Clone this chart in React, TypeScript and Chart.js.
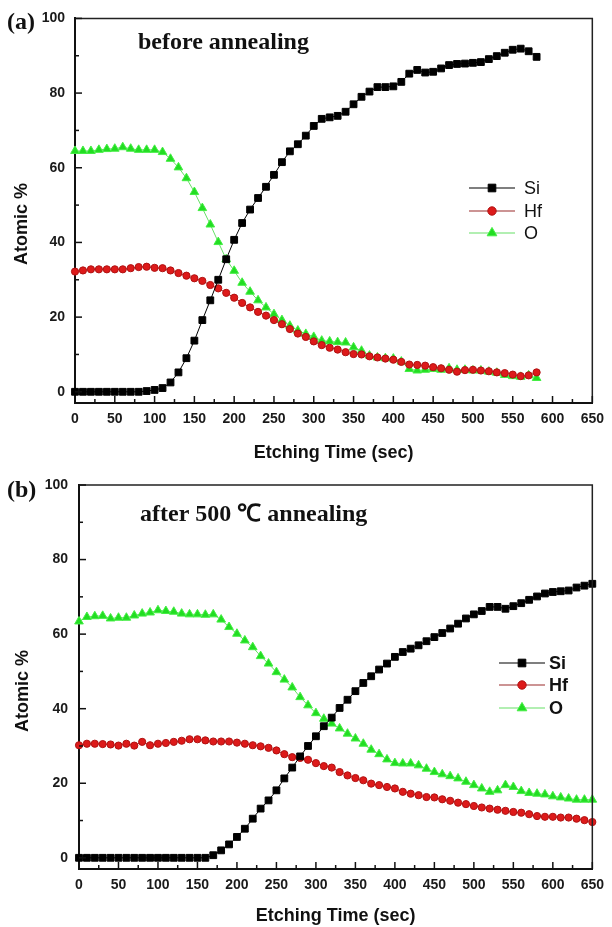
import React, { useEffect, useRef } from "react";
import { Chart, registerables } from "chart.js";

Chart.register(...registerables);

// ---------- data ----------
const timesA = [0, 10, 20, 30, 40, 50, 60, 70, 80, 90, 100, 110, 120, 130, 140, 150, 160, 170, 180, 190, 200, 210, 220, 230, 240, 250, 260, 270, 280, 290, 300, 310, 320, 330, 340, 350, 360, 370, 380, 390, 400, 410, 420, 430, 440, 450, 460, 470, 480, 490, 500, 510, 520, 530, 540, 550, 560, 570, 580];
const siA = [0, 0, 0, 0, 0, 0, 0, 0, 0, 0.2, 0.5, 1.0, 2.5, 5.2, 9.0, 13.7, 19.2, 24.5, 30.0, 35.5, 40.7, 45.2, 48.8, 51.9, 54.9, 58.1, 61.5, 64.4, 66.3, 68.6, 71.2, 73.1, 73.5, 73.9, 75.0, 77.0, 79.0, 80.4, 81.6, 81.6, 81.8, 83.0, 85.2, 86.2, 85.5, 85.7, 86.6, 87.5, 87.8, 87.9, 88.1, 88.3, 89.1, 89.9, 90.8, 91.6, 91.9, 91.2, 89.7];
const hfA = [32.2, 32.5, 32.8, 32.8, 32.8, 32.8, 32.8, 33.1, 33.4, 33.5, 33.2, 33.1, 32.5, 31.8, 31.1, 30.4, 29.7, 28.6, 27.7, 26.5, 25.2, 23.8, 22.6, 21.4, 20.4, 19.2, 18.1, 16.8, 15.6, 14.7, 13.5, 12.5, 11.8, 11.3, 10.6, 10.1, 10.0, 9.5, 9.2, 8.9, 8.6, 8.0, 7.3, 7.2, 7.0, 6.6, 6.3, 5.9, 5.4, 5.8, 5.9, 5.7, 5.5, 5.2, 5.0, 4.6, 4.2, 4.4, 5.2];
const oA = [64.5, 64.5, 64.5, 64.8, 65.0, 65.1, 65.5, 65.1, 64.8, 64.8, 64.8, 64.2, 62.4, 60.1, 57.2, 53.5, 49.2, 44.8, 40.1, 35.5, 32.4, 29.2, 26.8, 24.5, 22.6, 20.8, 19.2, 17.7, 16.4, 15.5, 14.7, 13.7, 13.5, 13.3, 13.2, 11.9, 11.0, 9.7, 9.2, 9.0, 8.9, 8.1, 6.1, 5.7, 5.9, 6.1, 5.9, 6.3, 5.9, 5.9, 5.7, 5.7, 5.4, 5.1, 4.5, 4.2, 4.0, 4.4, 3.7];

const timesB = [0, 10, 20, 30, 40, 50, 60, 70, 80, 90, 100, 110, 120, 130, 140, 150, 160, 170, 180, 190, 200, 210, 220, 230, 240, 250, 260, 270, 280, 290, 300, 310, 320, 330, 340, 350, 360, 370, 380, 390, 400, 410, 420, 430, 440, 450, 460, 470, 480, 490, 500, 510, 520, 530, 540, 550, 560, 570, 580, 590, 600, 610, 620, 630, 640, 650];
const siB = [0, 0, 0, 0, 0, 0, 0, 0, 0, 0, 0, 0, 0, 0, 0, 0, 0, 0.7, 2.0, 3.6, 5.6, 7.8, 10.5, 13.2, 15.4, 18.1, 21.3, 24.2, 27.2, 30.0, 32.6, 35.3, 37.6, 40.2, 42.4, 44.7, 46.9, 48.7, 50.5, 52.1, 53.9, 55.2, 56.1, 57.0, 58.1, 59.2, 60.3, 61.5, 62.8, 64.2, 65.3, 66.2, 67.3, 67.3, 66.8, 67.5, 68.3, 69.2, 70.1, 70.9, 71.3, 71.5, 71.7, 72.5, 73.0, 73.5];
const hfB = [30.2, 30.6, 30.6, 30.5, 30.4, 30.1, 30.6, 30.1, 31.1, 30.2, 30.6, 30.8, 31.1, 31.4, 31.8, 31.8, 31.5, 31.2, 31.2, 31.2, 30.9, 30.6, 30.2, 29.9, 29.5, 28.8, 27.8, 27.0, 26.8, 26.3, 25.4, 24.6, 24.2, 23.0, 22.1, 21.4, 20.8, 19.9, 19.5, 19.0, 18.6, 17.7, 17.2, 16.8, 16.3, 16.2, 15.7, 15.3, 14.8, 14.4, 13.9, 13.5, 13.2, 12.9, 12.6, 12.3, 12.1, 11.7, 11.2, 11.0, 11.0, 10.8, 10.8, 10.5, 10.1, 9.6];
const oB = [63.4, 64.6, 64.8, 64.9, 64.2, 64.4, 64.4, 65.0, 65.5, 65.8, 66.4, 66.2, 66.0, 65.5, 65.3, 65.3, 65.2, 65.3, 63.9, 61.9, 60.1, 58.3, 56.5, 54.1, 52.1, 49.8, 47.8, 45.7, 43.1, 40.9, 38.8, 37.3, 36.0, 34.7, 33.3, 32.0, 30.6, 29.0, 27.8, 26.4, 25.4, 25.3, 25.3, 24.8, 23.9, 23.0, 22.4, 21.9, 21.3, 20.4, 19.5, 18.6, 17.7, 18.1, 19.5, 19.0, 17.9, 17.4, 17.2, 17.0, 16.5, 16.2, 15.9, 15.6, 15.6, 15.6];

const seriesLabels = ["Si", "Hf", "O"];
const xMajorTicks = [0, 50, 100, 150, 200, 250, 300, 350, 400, 450, 500, 550, 600, 650];
const xMinorTicks = [25, 75, 125, 175, 225, 275, 325, 375, 425, 475, 525, 575, 625];
const yMajorTicks = [0, 20, 40, 60, 80, 100];
const yMinorTicks = [10, 30, 50, 70, 90];
const xTitle = "Etching Time (sec)";
const yTitle = "Atomic %";

// ---------- styles ----------
const SERIES_STYLE = [
  { line: "#000000", bg: "#000000", border: "#000000", style: "rect", r: 4.8 },
  { line: "#9a2a2a", bg: "#dd1a1a", border: "#b01212", style: "circle", r: 3.6 },
  { line: "#66e066", bg: "#22dd22", border: "#44ee44", style: "triangle", r: 5 },
];

const SANS = '"Liberation Sans", Arial, sans-serif';
const SERIF = '"Liberation Serif", "Times New Roman", serif';

function drawMarker(ctx: CanvasRenderingContext2D, style: string, x: number, y: number, r: number, bg: string, bc: string) {
  ctx.beginPath();
  if (style === "rect") {
    const s = r * Math.SQRT1_2;
    ctx.rect(x - s, y - s, 2 * s, 2 * s);
  } else if (style === "circle") {
    ctx.arc(x, y, r, 0, Math.PI * 2);
  } else {
    ctx.moveTo(x, y - r);
    ctx.lineTo(x + 0.866 * r, y + 0.5 * r);
    ctx.lineTo(x - 0.866 * r, y + 0.5 * r);
    ctx.closePath();
  }
  ctx.fillStyle = bg;
  ctx.fill();
  ctx.strokeStyle = bc;
  ctx.lineWidth = 1;
  ctx.stroke();
}

const decorPlugin = {
  id: "decor",
  afterDraw(chart: any, _args: any, opts: any) {
    const { ctx, chartArea: ca, scales } = chart;
    const xs = scales.x;
    const ys = scales.y;
    ctx.save();
    // frame top/right
    ctx.strokeStyle = "#222";
    ctx.lineWidth = 1.5;
    ctx.beginPath();
    ctx.moveTo(ca.left, ca.top);
    ctx.lineTo(ca.right, ca.top);
    ctx.lineTo(ca.right, ca.bottom);
    ctx.stroke();
    // inward ticks
    ctx.strokeStyle = "#111";
    ctx.lineWidth = 1.5;
    const seg = (x1: number, y1: number, x2: number, y2: number) => {
      ctx.beginPath();
      ctx.moveTo(x1, y1);
      ctx.lineTo(x2, y2);
      ctx.stroke();
    };
    xMajorTicks.forEach((v) => {
      const p = xs.getPixelForValue(v);
      seg(p, ca.bottom, p, ca.bottom - 7);
    });
    xMinorTicks.forEach((v) => {
      const p = xs.getPixelForValue(v);
      seg(p, ca.bottom, p, ca.bottom - 4);
    });
    yMajorTicks.forEach((v) => {
      const p = ys.getPixelForValue(v);
      seg(ca.left, p, ca.left + 7, p);
    });
    yMinorTicks.forEach((v) => {
      const p = ys.getPixelForValue(v);
      seg(ca.left, p, ca.left + 4, p);
    });
    // y title
    ctx.save();
    ctx.translate(opts.yTitleX, opts.yTitleY);
    ctx.rotate(-Math.PI / 2);
    ctx.font = `bold 18px ${SANS}`;
    ctx.fillStyle = "#111";
    ctx.textAlign = "center";
    ctx.textBaseline = "middle";
    ctx.fillText(yTitle, 0, 0);
    ctx.restore();
    // panel texts
    ctx.fillStyle = "#111";
    ctx.textAlign = "left";
    ctx.textBaseline = "middle";
    (opts.texts || []).forEach((t: any) => {
      ctx.font = t.font;
      ctx.fillText(t.text, t.x, t.y);
    });
    // legend
    const lg = opts.legend;
    chart.data.datasets.forEach((ds: any, i: number) => {
      const y = lg.ys[i];
      const st = SERIES_STYLE[i];
      ctx.strokeStyle = st.line;
      ctx.lineWidth = 1.2;
      seg(lg.x1, y, lg.x2, y);
      drawMarker(ctx, st.style, lg.mx, y, st.r + 0.6, st.bg, st.border);
      ctx.fillStyle = "#111";
      ctx.font = lg.font;
      ctx.textAlign = "left";
      ctx.textBaseline = "middle";
      ctx.fillText(ds.label, lg.tx, y + 1);
    });
    ctx.restore();
  },
};

type PanelCfg = {
  h: number;
  padTop: number;
  padRight: number;
  yWidth: number;
  xHeight: number;
  yLabelPad: number;
  xLabelPad: number;
  times: number[];
  series: number[][];
  yTitleX: number;
  yTitleY: number;
  texts: { text: string; x: number; y: number; font: string }[];
  legend: { x1: number; x2: number; mx: number; tx: number; ys: number[]; font: string };
};

const PANEL_A: PanelCfg = {
  h: 464,
  padTop: 18,
  padRight: 14,
  yWidth: 75,
  xHeight: 61,
  yLabelPad: 10,
  xLabelPad: 8,
  times: timesA,
  series: [siA, hfA, oA],
  yTitleX: 22,
  yTitleY: 224,
  texts: [
    { text: "(a)", x: 7, y: 23, font: `bold 24px ${SERIF}` },
    { text: "before annealing", x: 138, y: 43, font: `bold 24px ${SERIF}` },
  ],
  legend: { x1: 469, x2: 515, mx: 492, tx: 524, ys: [188, 211, 233], font: `18px ${SANS}` },
};

const PANEL_B: PanelCfg = {
  h: 463,
  padTop: 21,
  padRight: 13,
  yWidth: 79,
  xHeight: 58,
  yLabelPad: 11,
  xLabelPad: 8,
  times: timesB,
  series: [siB, hfB, oB],
  yTitleX: 23,
  yTitleY: 227,
  texts: [
    { text: "(b)", x: 7, y: 27, font: `bold 24px ${SERIF}` },
    { text: "after 500 ℃ annealing", x: 140, y: 51, font: `bold 24px ${SERIF}` },
  ],
  legend: { x1: 499, x2: 545, mx: 522, tx: 549, ys: [199, 221, 244], font: `bold 18px ${SANS}` },
};

function Panel({ cfg }: { cfg: PanelCfg }) {
  const ref = useRef<HTMLCanvasElement>(null);
  useEffect(() => {
    if (!ref.current) return;
    const datasets = cfg.series.map((vals, i) => {
      const st = SERIES_STYLE[i];
      return {
        label: seriesLabels[i],
        data: cfg.times.map((t, j) => ({ x: t, y: vals[j] })),
        borderColor: st.line,
        borderWidth: 1,
        backgroundColor: st.bg,
        pointBackgroundColor: st.bg,
        pointBorderColor: st.border,
        pointBorderWidth: 1,
        pointStyle: st.style,
        pointRadius: st.r,
        tension: 0,
        clip: false,
      };
    });
    const chart = new Chart(ref.current, {
      type: "line",
      data: { datasets } as any,
      options: {
        animation: false,
        responsive: false,
        devicePixelRatio: 1,
        layout: { padding: { left: 0, top: cfg.padTop, right: cfg.padRight, bottom: 0 } },
        plugins: {
          legend: { display: false },
          tooltip: { enabled: false },
          decor: {
            yTitleX: cfg.yTitleX,
            yTitleY: cfg.yTitleY,
            texts: cfg.texts,
            legend: cfg.legend,
          },
        } as any,
        scales: {
          x: {
            type: "linear",
            min: 0,
            max: 650,
            afterBuildTicks: (s: any) => {
              s.ticks = xMajorTicks.map((v) => ({ value: v }));
            },
            afterFit: (s: any) => {
              s.height = cfg.xHeight;
            },
            grid: { display: true, drawOnChartArea: false, drawTicks: false },
            border: { display: true, color: "#111", width: 2 },
            ticks: {
              padding: cfg.xLabelPad,
              color: "#1a1a1a",
              maxRotation: 0,
              autoSkip: false,
              font: { family: SANS, size: 14, weight: "bold" },
            },
            title: {
              display: true,
              text: xTitle,
              color: "#111",
              padding: { top: 0, bottom: 0 },
              font: { family: SANS, size: 18, weight: "bold" },
            },
          },
          y: {
            type: "linear",
            min: -3,
            max: 100,
            afterBuildTicks: (s: any) => {
              s.ticks = yMajorTicks.map((v) => ({ value: v }));
            },
            afterFit: (s: any) => {
              s.width = cfg.yWidth;
            },
            grid: { display: true, drawOnChartArea: false, drawTicks: false },
            border: { display: true, color: "#111", width: 2 },
            ticks: {
              padding: cfg.yLabelPad,
              color: "#1a1a1a",
              autoSkip: false,
              font: { family: SANS, size: 14, weight: "bold" },
            },
          },
        },
      } as any,
      plugins: [decorPlugin as any],
    });
    return () => chart.destroy();
  }, [cfg]);
  return <canvas ref={ref} width={612} height={cfg.h} style={{ display: "block", width: 612, height: cfg.h }} />;
}

export default function App() {
  return (
    <div style={{ position: "absolute", left: 0, top: 0, width: 612, height: 927, background: "#ffffff" }}>
      <Panel cfg={PANEL_A} />
      <Panel cfg={PANEL_B} />
    </div>
  );
}
